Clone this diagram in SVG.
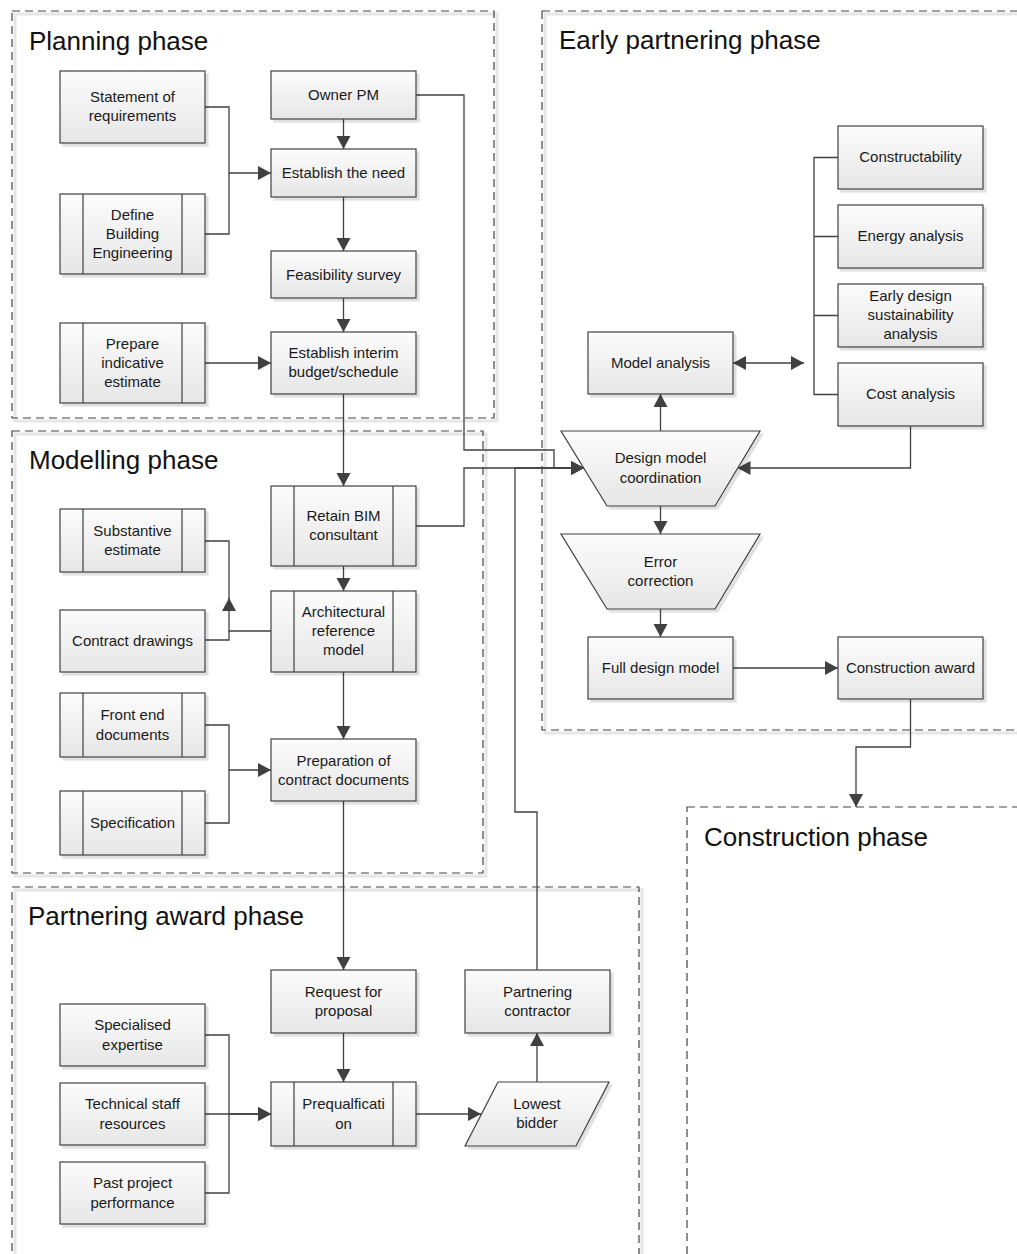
<svg xmlns="http://www.w3.org/2000/svg" width="1017" height="1254" viewBox="0 0 1017 1254">
  <style>
    .phase { fill: none; stroke: #454545; stroke-width: 1.2; stroke-dasharray: 8 5; }
    .phase-shadow { fill: none; stroke: #e6e6e6; stroke-width: 3; }
    .title { font-family: "Liberation Sans", Arial, sans-serif; font-size: 26px; fill: #111; }
    .box { fill: url(#boxFill); stroke: #404040; stroke-width: 1.2; filter: url(#shadow); }
    .sub { fill: none; stroke: #404040; stroke-width: 1.2; }
    .label { font-family: "Liberation Sans", Arial, sans-serif; font-size: 15px; fill: #1a1a1a; text-anchor: middle; }
    .conn { fill: none; stroke: #404040; stroke-width: 1.3; }
    .arrow { marker-end: url(#arrowHead); }
  </style>
  <defs>
    <linearGradient id="boxFill" x1="0" y1="0" x2="0" y2="1">
      <stop offset="0" stop-color="#fcfcfc"/>
      <stop offset="1" stop-color="#e6e6e6"/>
    </linearGradient>
    <filter id="shadow" x="-10%" y="-10%" width="130%" height="130%">
      <feDropShadow dx="3" dy="3" stdDeviation="0.6" flood-color="#000" flood-opacity="0.12"/>
    </filter>
    <marker id="arrowHead" markerUnits="userSpaceOnUse" markerWidth="14" markerHeight="15" refX="13" refY="7" orient="auto-start-reverse">
      <path d="M0,0 L13,7 L0,14 Z" fill="#404040"/>
    </marker>
  </defs>

  <!-- phase frames -->
  <g id="phases">
    <rect class="phase-shadow" x="15" y="14" width="482" height="407"/>
    <rect class="phase" x="12" y="11" width="482" height="407"/>
    <rect class="phase-shadow" x="15" y="434" width="471" height="442"/>
    <rect class="phase" x="12" y="431" width="471" height="442"/>
    <rect class="phase-shadow" x="15" y="890" width="627" height="400"/>
    <rect class="phase" x="12" y="887" width="627" height="400"/>
    <rect class="phase-shadow" x="545" y="14" width="520" height="719"/>
    <rect class="phase" x="542" y="11" width="520" height="719"/>
    <rect class="phase" x="687" y="807" width="400" height="480"/>
    <text class="title" x="29" y="50">Planning phase</text>
    <text class="title" x="29" y="469">Modelling phase</text>
    <text class="title" x="28" y="925">Partnering award phase</text>
    <text class="title" x="559" y="49">Early partnering phase</text>
    <text class="title" x="704" y="846">Construction phase</text>
  </g>

  <!-- connectors -->
  <g id="connectors">
    <path class="conn arrow" d="M205,107 H229 V173 H271"/>
    <path class="conn" d="M205,234 H229 V173"/>
    <path class="conn arrow" d="M343.5,119 V149"/>
    <path class="conn arrow" d="M343.5,197 V251"/>
    <path class="conn arrow" d="M343.5,298 V332"/>
    <path class="conn arrow" d="M205,363 H271"/>
    <path class="conn arrow" d="M343.5,394 V486"/>
    <path class="conn arrow" d="M416,95 H464 V450 H554 V468 H584"/>
    <path class="conn arrow" d="M416,526 H464 V468 H584"/>
    <path class="conn arrow" d="M537,970 V812 H515 V468 H584"/>
    <path class="conn arrow" d="M343.5,566 V591"/>
    <path class="conn arrow" d="M271,631 H229 V598"/>
    <path class="conn" d="M229,600 V541 H205"/>
    <path class="conn" d="M205,640 H229 V631"/>
    <path class="conn arrow" d="M343.5,672 V739"/>
    <path class="conn arrow" d="M205,725 H229 V770 H271"/>
    <path class="conn" d="M205,823 H229 V770"/>
    <path class="conn arrow" d="M343.5,801 V970"/>
    <path class="conn arrow" d="M343.5,1033 V1082"/>
    <path class="conn arrow" d="M205,1035 H229 V1114 H271"/>
    <path class="conn arrow" d="M205,1114 H271"/>
    <path class="conn" d="M205,1193 H229 V1114"/>
    <path class="conn arrow" d="M416,1114 H481"/>
    <path class="conn arrow" d="M537,1082 V1033"/>
    <path class="conn arrow" d="M660.5,431 V394"/>
    <path class="conn arrow" d="M733,363 H804" marker-start="url(#arrowHead)"/>
    <path class="conn" d="M838,157.5 H814 V394.5 H838 M814,236.5 H838 M814,315.5 H838"/>
    <path class="conn arrow" d="M910.5,426 V468 H737.5"/>
    <path class="conn arrow" d="M660.5,506 V534"/>
    <path class="conn arrow" d="M660.5,609 V637"/>
    <path class="conn arrow" d="M733,668 H838"/>
    <path class="conn arrow" d="M910.5,699 V747 H856 V807"/>
  </g>

  <!-- planning phase nodes -->
  <g id="n-requirements">
    <rect class="box" x="60" y="71" width="145" height="72"/>
    <text class="label" x="132.5" y="102">Statement of</text>
    <text class="label" x="132.5" y="121">requirements</text>
  </g>
  <g id="n-define">
    <rect class="box" x="60" y="194" width="145" height="80"/>
    <path class="sub" d="M83,194 V274 M182,194 V274"/>
    <text class="label" x="132.5" y="220">Define</text>
    <text class="label" x="132.5" y="239">Building</text>
    <text class="label" x="132.5" y="258">Engineering</text>
  </g>
  <g id="n-owner">
    <rect class="box" x="271" y="71" width="145" height="48"/>
    <text class="label" x="343.5" y="100">Owner PM</text>
  </g>
  <g id="n-need">
    <rect class="box" x="271" y="149" width="145" height="48"/>
    <text class="label" x="343.5" y="178">Establish the need</text>
  </g>
  <g id="n-feasibility">
    <rect class="box" x="271" y="251" width="145" height="47"/>
    <text class="label" x="343.5" y="280">Feasibility survey</text>
  </g>
  <g id="n-interim">
    <rect class="box" x="271" y="332" width="145" height="62"/>
    <text class="label" x="343.5" y="358">Establish interim</text>
    <text class="label" x="343.5" y="377">budget/schedule</text>
  </g>
  <g id="n-prepare">
    <rect class="box" x="60" y="323" width="145" height="80"/>
    <path class="sub" d="M83,323 V403 M182,323 V403"/>
    <text class="label" x="132.5" y="349">Prepare</text>
    <text class="label" x="132.5" y="368">indicative</text>
    <text class="label" x="132.5" y="387">estimate</text>
  </g>

  <!-- modelling phase nodes -->
  <g id="n-retain">
    <rect class="box" x="271" y="486" width="145" height="80"/>
    <path class="sub" d="M294,486 V566 M393,486 V566"/>
    <text class="label" x="343.5" y="521">Retain BIM</text>
    <text class="label" x="343.5" y="540">consultant</text>
  </g>
  <g id="n-architectural">
    <rect class="box" x="271" y="591" width="145" height="81"/>
    <path class="sub" d="M294,591 V672 M393,591 V672"/>
    <text class="label" x="343.5" y="617">Architectural</text>
    <text class="label" x="343.5" y="636">reference</text>
    <text class="label" x="343.5" y="655">model</text>
  </g>
  <g id="n-substantive">
    <rect class="box" x="60" y="509" width="145" height="63"/>
    <path class="sub" d="M83,509 V572 M182,509 V572"/>
    <text class="label" x="132.5" y="536">Substantive</text>
    <text class="label" x="132.5" y="555">estimate</text>
  </g>
  <g id="n-drawings">
    <rect class="box" x="60" y="610" width="145" height="62"/>
    <text class="label" x="132.5" y="646">Contract drawings</text>
  </g>
  <g id="n-frontend">
    <rect class="box" x="60" y="693" width="145" height="64"/>
    <path class="sub" d="M83,693 V757 M182,693 V757"/>
    <text class="label" x="132.5" y="720">Front end</text>
    <text class="label" x="132.5" y="740">documents</text>
  </g>
  <g id="n-specification">
    <rect class="box" x="60" y="791" width="145" height="64"/>
    <path class="sub" d="M83,791 V855 M182,791 V855"/>
    <text class="label" x="132.5" y="828">Specification</text>
  </g>
  <g id="n-preparation">
    <rect class="box" x="271" y="739" width="145" height="62"/>
    <text class="label" x="343.5" y="766">Preparation of</text>
    <text class="label" x="343.5" y="785">contract documents</text>
  </g>

  <!-- partnering award phase nodes -->
  <g id="n-rfp">
    <rect class="box" x="271" y="970" width="145" height="63"/>
    <text class="label" x="343.5" y="997">Request for</text>
    <text class="label" x="343.5" y="1016">proposal</text>
  </g>
  <g id="n-prequal">
    <rect class="box" x="271" y="1082" width="145" height="64"/>
    <path class="sub" d="M294,1082 V1146 M393,1082 V1146"/>
    <text class="label" x="343.5" y="1109">Prequalficati</text>
    <text class="label" x="343.5" y="1129">on</text>
  </g>
  <g id="n-lowest">
    <path class="box" d="M498,1082 H609 L576,1146 H465 Z"/>
    <text class="label" x="537" y="1109">Lowest</text>
    <text class="label" x="537" y="1128">bidder</text>
  </g>
  <g id="n-partnering">
    <rect class="box" x="465" y="970" width="145" height="63"/>
    <text class="label" x="537.5" y="997">Partnering</text>
    <text class="label" x="537.5" y="1016">contractor</text>
  </g>
  <g id="n-specialised">
    <rect class="box" x="60" y="1004" width="145" height="62"/>
    <text class="label" x="132.5" y="1030">Specialised</text>
    <text class="label" x="132.5" y="1050">expertise</text>
  </g>
  <g id="n-technical">
    <rect class="box" x="60" y="1083" width="145" height="62"/>
    <text class="label" x="132.5" y="1109">Technical staff</text>
    <text class="label" x="132.5" y="1129">resources</text>
  </g>
  <g id="n-past">
    <rect class="box" x="60" y="1162" width="145" height="62"/>
    <text class="label" x="132.5" y="1188">Past project</text>
    <text class="label" x="132.5" y="1208">performance</text>
  </g>

  <!-- early partnering phase nodes -->
  <g id="n-model-analysis">
    <rect class="box" x="588" y="332" width="145" height="62"/>
    <text class="label" x="660.5" y="368">Model analysis</text>
  </g>
  <g id="n-constructability">
    <rect class="box" x="838" y="126" width="145" height="63"/>
    <text class="label" x="910.5" y="162">Constructability</text>
  </g>
  <g id="n-energy">
    <rect class="box" x="838" y="205" width="145" height="63"/>
    <text class="label" x="910.5" y="241">Energy analysis</text>
  </g>
  <g id="n-sustainability">
    <rect class="box" x="838" y="284" width="145" height="63"/>
    <text class="label" x="910.5" y="301">Early design</text>
    <text class="label" x="910.5" y="320">sustainability</text>
    <text class="label" x="910.5" y="339">analysis</text>
  </g>
  <g id="n-cost">
    <rect class="box" x="838" y="363" width="145" height="63"/>
    <text class="label" x="910.5" y="399">Cost analysis</text>
  </g>
  <g id="n-coordination">
    <path class="box" d="M561,431 H760 L715,506 H607 Z"/>
    <text class="label" x="660.5" y="463">Design model</text>
    <text class="label" x="660.5" y="483">coordination</text>
  </g>
  <g id="n-error">
    <path class="box" d="M561,534 H760 L715,609 H607 Z"/>
    <text class="label" x="660.5" y="567">Error</text>
    <text class="label" x="660.5" y="586">correction</text>
  </g>
  <g id="n-full">
    <rect class="box" x="588" y="637" width="145" height="62"/>
    <text class="label" x="660.5" y="673">Full design model</text>
  </g>
  <g id="n-award">
    <rect class="box" x="838" y="637" width="145" height="62"/>
    <text class="label" x="910.5" y="673">Construction award</text>
  </g>
</svg>
